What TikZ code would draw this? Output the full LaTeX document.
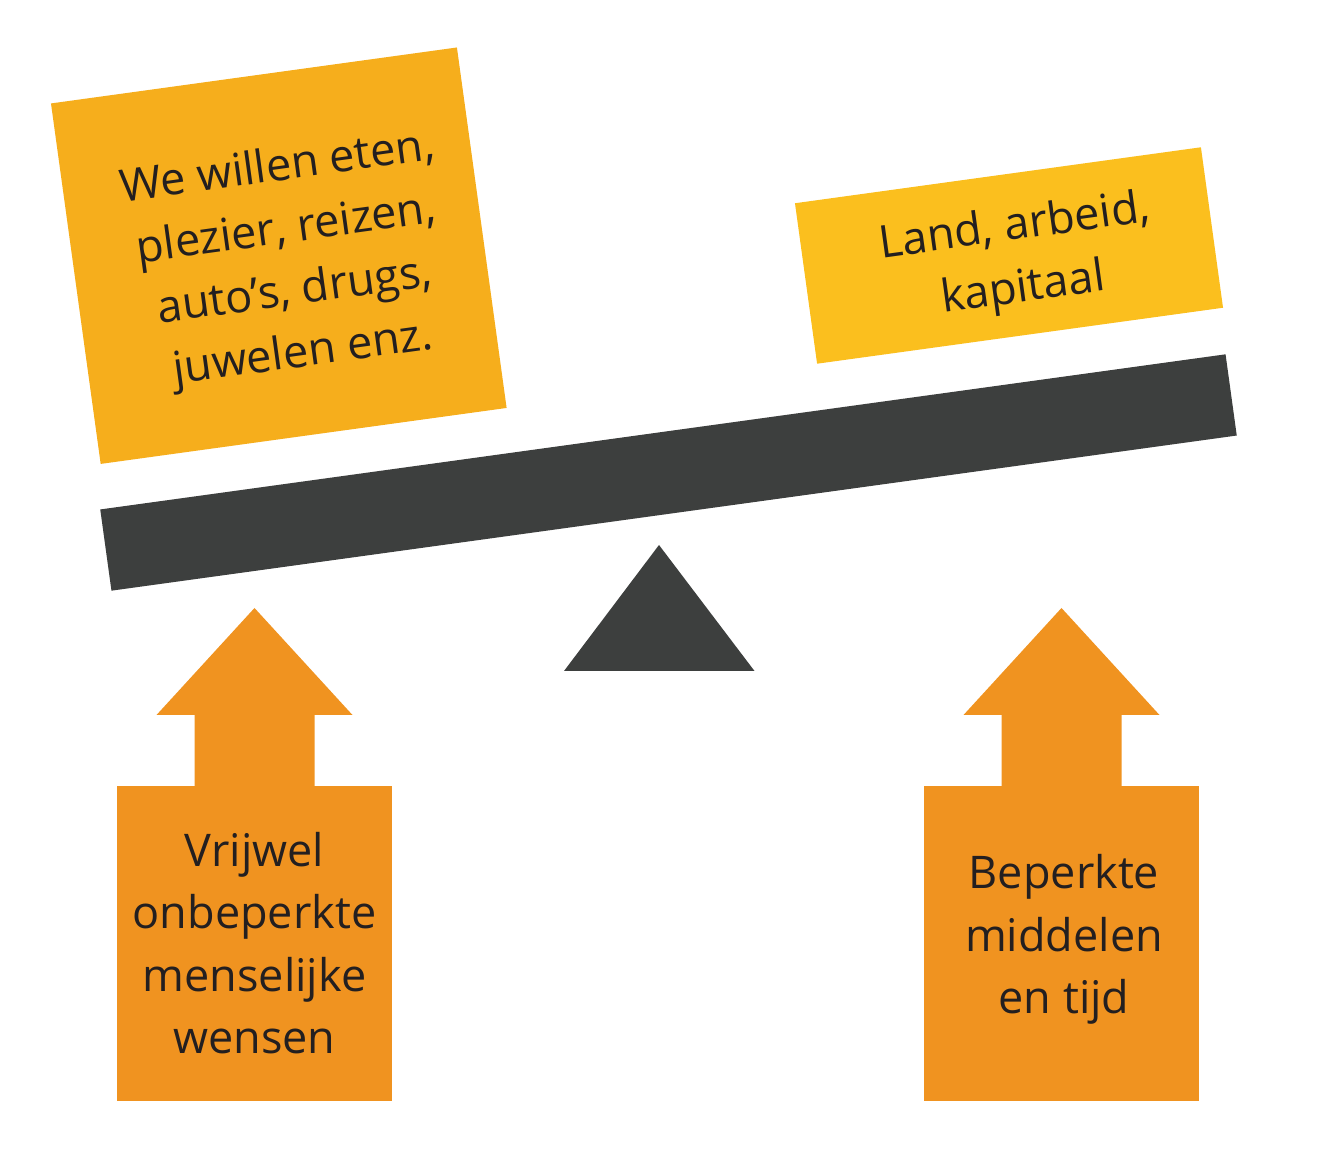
\documentclass[tikz,border=0pt]{standalone}
\usepackage{fontspec}
\setmainfont{Open Sans}
\definecolor{boxA}{HTML}{F6AE1C}
\definecolor{boxB}{HTML}{FBBF1E}
\definecolor{arrowC}{HTML}{F09320}
\definecolor{beamC}{HTML}{3D3F3E}
\definecolor{txt}{HTML}{231F20}
\begin{document}
\begin{tikzpicture}[x=0.5pt,y=-0.5pt,
  every node/.style={inner sep=0pt, outer sep=0pt},
  lbl/.style={font=\fontsize{22.5}{31.25}\selectfont, text=txt, align=center},
  tilt/.style={rotate=7.85},
  uparrow/.pic={\fill[arrowC] (0,0) -- (98,107) -- (60,107) -- (60,181) -- (-60,181) -- (-60,107) -- (-98,107) -- cycle;}]
\useasboundingbox (0,0) rectangle (1334,1154);
% top boxes
\node[fill=boxA, minimum width=204.9pt, minimum height=181.95pt, tilt] (wants) at (278.8,255.7) {};
\node[lbl, tilt] (wantstxt) at (290.5,262) {We willen eten,\\plezier, reizen,\\auto’s, drugs,\\juwelen enz.};
\node[fill=boxB, minimum width=204.9pt, minimum height=81pt, tilt] (means) at (1009,255.5) {};
\node[lbl, tilt] (meanstxt) at (1019,259) {Land, arbeid,\\kapitaal};
% beam and fulcrum
\node[fill=beamC, minimum width=568pt, minimum height=41pt, tilt] (beam) at (668.5,472.5) {};
\fill[beamC] (659,545) -- (754.5,671) -- (564,671) -- cycle;
% arrows
\pic at (254.5,608) {uparrow};
\pic at (1061.5,608) {uparrow};
\node[fill=arrowC, minimum width=137.6pt, minimum height=157.35pt, lbl] (wishes) at (254.5,943.3) {Vrijwel\\onbeperkte\\menselijke\\wensen};
\node[fill=arrowC, minimum width=137.4pt, minimum height=157.35pt] (limits) at (1061.4,943.3) {};
\node[lbl] (limitstxt) at (1064,939.5) {Beperkte\\middelen\\en tijd};
\end{tikzpicture}
\end{document}
